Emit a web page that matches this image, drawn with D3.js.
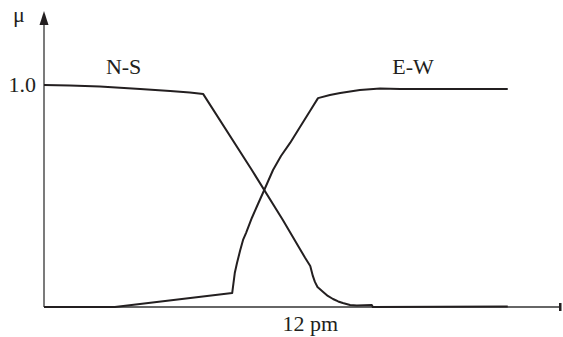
<!DOCTYPE html>
<html>
<head>
<meta charset="utf-8">
<script src="https://cdn.jsdelivr.net/npm/d3@7"></script>
<style>
  body { margin: 0; background: #fff; }
</style>
</head>
<body>
<div id="chart"></div>
<script>
// time axis runs 0..100 (abstract), membership mu 0..1
const nsX  = [0, 5.0, 10.8, 18.6, 24.4, 28.2, 30.8, 40.2, 46.2, 49.5, 50.5, 51.5, 52.0, 52.4, 52.9, 54.0, 54.9, 55.9, 56.9, 57.8, 59.2, 60.5, 63.4, 63.6, 89.7];
const nsMu = [1.0, 0.998, 0.993, 0.982, 0.973, 0.966, 0.959, 0.617, 0.392, 0.261, 0.222, 0.185, 0.140, 0.113, 0.090, 0.068, 0.050, 0.036, 0.025, 0.018, 0.009, 0.007, 0.009, 0.0, 0.002];
const ewX  = [0, 13.7, 36.4, 36.65, 36.9, 37.33, 37.91, 38.5, 39.07, 40.2, 41.39, 42.6, 44.3, 45.84, 47.6, 49.52, 51.45, 53.0, 55.3, 57.3, 61.1, 65.0, 68.9, 89.7];
const ewMu = [0, 0, 0.063, 0.108, 0.153, 0.198, 0.252, 0.302, 0.333, 0.401, 0.464, 0.527, 0.617, 0.680, 0.739, 0.811, 0.883, 0.941, 0.955, 0.964, 0.977, 0.984, 0.982, 0.982];
const yTicks = [1.0];
const xTickPos = 51.5;
const xTickLabel = "12 pm";
const seriesLabels = [
    { name: "N-S", x: 15.4, mu: 1.05 },
    { name: "E-W", x: 71.4, mu: 1.05 }
];

const width = 563, height = 337;
const x = d3.scaleLinear().domain([0, 100]).range([44, 561]);
const y = d3.scaleLinear().domain([0, 1]).range([307, 85]);
const ink = "#231f20";
const font = "'Liberation Serif'";
const fontSize = 22;

const svg = d3.select("#chart").append("svg")
    .attr("width", width)
    .attr("height", height);

// axes
svg.append("line")
    .attr("x1", x(0)).attr("x2", x(0))
    .attr("y1", y(0)).attr("y2", 24)
    .attr("stroke", "#5a5a5a").attr("stroke-width", 1.6);
svg.append("path")
    .attr("d", `M${x(0)},11 L${x(0) - 4.5},25 L${x(0) + 4.5},25 Z`)
    .attr("fill", ink);
svg.append("line")
    .attr("x1", x(0)).attr("x2", x(100))
    .attr("y1", y(0)).attr("y2", y(0))
    .attr("stroke", "#333").attr("stroke-width", 1.4);
svg.append("rect")
    .attr("x", x(100) - 2).attr("y", y(0) - 4)
    .attr("width", 2.5).attr("height", 8)
    .attr("fill", ink);

function label(sel) {
    sel.style("font-family", font)
        .attr("font-size", fontSize)
        .attr("fill", ink);
}

// axis labels
svg.append("text")
    .attr("x", 13).attr("y", 22)
    .call(label)
    .text("\u03bc");
svg.selectAll("text.ytick")
    .data(yTicks)
    .enter().append("text")
    .attr("class", "ytick")
    .attr("x", 36).attr("y", d => y(d) + 7)
    .attr("text-anchor", "end")
    .call(label)
    .text(d => d.toFixed(1));
svg.append("text")
    .attr("x", x(xTickPos)).attr("y", 331)
    .attr("text-anchor", "middle")
    .call(label)
    .text(xTickLabel);

// curves
const line = d3.line()
    .x(d => x(d[0]))
    .y(d => y(d[1]));

const series = [
    d3.zip(nsX, nsMu),
    d3.zip(ewX, ewMu)
];

svg.selectAll("path.curve")
    .data(series)
    .enter().append("path")
    .attr("class", "curve")
    .attr("d", line)
    .attr("fill", "none")
    .attr("stroke", ink)
    .attr("stroke-width", 2)
    .attr("stroke-linejoin", "round");

svg.selectAll("text.series")
    .data(seriesLabels)
    .enter().append("text")
    .attr("class", "series")
    .attr("x", d => x(d.x)).attr("y", d => y(d.mu))
    .attr("text-anchor", "middle")
    .call(label)
    .text(d => d.name);
</script>
</body>
</html>
